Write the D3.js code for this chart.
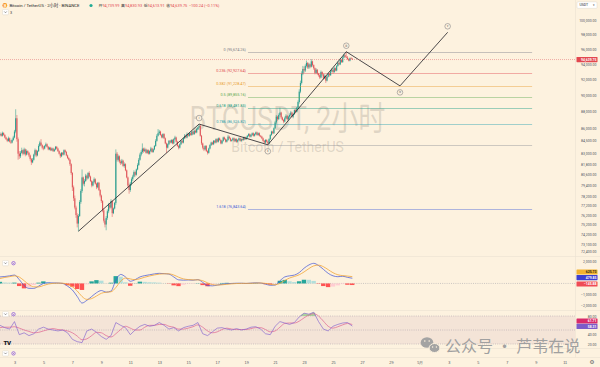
<!DOCTYPE html>
<html>
<head>
<meta charset="utf-8">
<script src="https://cdn.jsdelivr.net/npm/d3@7"></script>
<style>
  html, body { margin: 0; padding: 0; background: #fdf2df; }
  svg { display: block; font-family: Roboto, "Noto Sans CJK SC", sans-serif; }
</style>
</head>
<body>
<svg id="chart" width="600" height="367"></svg>
<script>
// ---------- BTC/USDT 2h candles, from 2025-04-02 00:00 (UTC+8), 12 bars per day ----------
const barStart = "2025-04-02T00:00";
const firstOpen = 85200;
const closes = [
  85300, 85100, 85450, 85200, 84900, 84700, 84500, 84800, 84400, 84300, 84600, 84900,
  85600, 87200, 84700, 83000, 82700, 83100, 83400, 83000, 83500, 82900, 83300, 83100,
  82800, 82400, 82000, 82300, 82900, 83400, 82800, 83300, 83900, 84300, 84000, 83700,
  83600, 83900, 84100, 83800, 83500, 83700, 83400, 83600, 83300, 83500, 83800, 83600,
  83300, 83000, 82700, 83100, 82900, 83400, 83200, 82800, 82500, 82300, 81800, 80800,
  79200, 78000, 77000, 76200, 75300, 76100, 77600, 78800, 80300, 79600, 79900, 80500,
  80200, 80800, 80400, 79900, 79400, 79800, 80100, 79600, 79200, 79700, 78900, 78300,
  77700, 76700, 75600, 75200, 75900, 76600, 77300, 77000, 77700, 76400, 76900, 77500,
  83000, 82300, 82700, 82100, 81900, 82200, 81600, 81800, 81100, 80300, 79400, 78900,
  79600, 80100, 80400, 80900, 80600, 81200, 81700, 82300, 82900, 83200, 83600, 83300,
  83500, 83100, 83400, 83000, 83300, 83600, 83200, 83500, 83900, 84500, 85100, 85400,
  85600, 85200, 84900, 85300, 84800, 84200, 83700, 84100, 84500, 84300, 84600, 84200,
  84700, 84900, 84400, 83900, 83700, 84100, 84500, 84300, 84800, 85100, 84900, 85300,
  85100, 85400, 85200, 85600, 85300, 85700, 85500, 85900, 86100, 86300, 85100, 84200,
  83700, 83500, 83900, 83300, 83100, 83600, 84000, 84300, 84100, 84500, 84300, 84700,
  84400, 84800, 84600, 84200, 84500, 84900, 84700, 84400, 84600, 85000, 84800, 84500,
  84600, 84800, 84500, 84700, 84400, 84600, 84800, 84500, 84700, 84600, 84900, 84700,
  84900, 85100, 85300, 85000, 85200, 85400, 85100, 85300, 85500, 85200, 85400, 85100,
  85000, 84800, 84500, 84300, 84600, 84400, 84200, 84700, 85200, 85600, 85400, 86000,
  86700, 87400, 87100, 87600, 87900, 87300, 87000, 86800, 87200, 87500, 87100, 87400,
  87600, 87900, 87400, 87700, 88200, 88000, 88500, 89200, 90500, 91600, 92800, 93400,
  93200, 93800, 94200, 93600, 94000, 93700, 94400, 93900, 93500, 92900, 93300, 92800,
  92600, 92300, 93000, 92700, 92200, 92500, 91900, 92400, 92800, 92600, 93100, 93300,
  93000, 93500, 93200, 93800, 94200, 94000, 94600, 94300, 94900, 95200, 95000, 94900,
  94700, 94500, 94800, 94739.99, 94639.75
];
const highs = [
  85500, 85450, 85600, 85500, 85300, 85000, 84800, 85000, 84900, 84600, 84750, 85100,
  85800, 88300, 87600, 84900, 83300, 83300, 83700, 83500, 83700, 83600, 83500, 83400,
  83200, 82900, 82500, 82500, 83000, 83600, 83500, 83400, 84100, 84500, 84700, 84100,
  83900, 84000, 84300, 84200, 83900, 83800, 83800, 83700, 83700, 83600, 83900, 83900,
  83700, 83400, 83100, 83200, 83200, 83500, 83500, 83300, 82900, 82600, 82400, 81900,
  80900, 79400, 78300, 77200, 76400, 76300, 77800, 79000, 81200, 80400, 80100, 80700,
  80600, 80900, 81000, 80500, 80000, 79900, 80300, 80200, 79700, 79800, 79800, 79000,
  78400, 77800, 76900, 75800, 76100, 76800, 77500, 77500, 77900, 77800, 77000, 77600,
  83500, 83200, 82900, 82800, 82300, 82400, 82300, 82000, 81900, 81200, 80400, 79600,
  79800, 80300, 80600, 81100, 81000, 81300, 81900, 82500, 83100, 83400, 84200, 83700,
  83700, 83600, 83500, 83500, 83400, 83800, 83700, 83600, 84000, 84700, 85300, 85900,
  85800, 85700, 85300, 85400, 85400, 84900, 84300, 84200, 84600, 84600, 84700, 84700,
  84800, 85100, 85000, 84500, 84000, 84200, 84600, 84600, 84900, 85300, 85200, 85500,
  85400, 85500, 85500, 85700, 85700, 85800, 85800, 86000, 86200, 86500, 86400, 85200,
  84300, 83900, 84000, 84000, 83400, 83700, 84100, 84400, 84400, 84600, 84600, 84800,
  84800, 84900, 84900, 84700, 84600, 85000, 85000, 84800, 84700, 85200, 85100, 84900,
  84700, 84900, 84900, 84800, 84800, 84700, 84900, 84900, 84800, 84800, 85000, 85000,
  85000, 85200, 85400, 85400, 85300, 85500, 85500, 85400, 85600, 85600, 85500, 85500,
  85200, 85100, 84900, 84600, 84700, 84700, 84500, 84800, 85300, 85700, 85700, 86100,
  86900, 87600, 87500, 87800, 88500, 88000, 87400, 87100, 87400, 87700, 87600, 87500,
  87800, 88100, 88000, 87800, 88300, 88400, 88600, 89400, 90800, 91900, 93100, 93800,
  93700, 94000, 94500, 94300, 94200, 94100, 94700, 94500, 94000, 93600, 93500, 93400,
  92900, 92700, 93200, 93100, 92800, 92700, 92600, 92500, 92900, 92900, 93200, 93500,
  93500, 93700, 93600, 93900, 94400, 94300, 94800, 94700, 95000, 95400, 95300, 95674.26,
  95100, 94800, 94900, 94950, 94830.93
];
const lows = [
  85050, 85000, 85000, 85100, 84800, 84600, 84350, 84400, 84300, 84150, 84200, 84500,
  84800, 85400, 84400, 82300, 82400, 82500, 83000, 82800, 82900, 82700, 82800, 82900,
  82600, 82200, 81700, 81900, 82200, 82700, 82600, 82700, 83200, 83800, 83900, 83500,
  83400, 83500, 83800, 83700, 83400, 83400, 83300, 83300, 83200, 83200, 83400, 83500,
  83200, 82900, 82500, 82600, 82800, 82800, 83100, 82700, 82400, 82200, 81600, 80600,
  78800, 77700, 76800, 75900, 74900, 74500, 76000, 77400, 78600, 79400, 79300, 79800,
  80000, 80100, 80300, 79800, 79200, 79300, 79700, 79500, 79000, 79100, 78800, 78100,
  77500, 76500, 75400, 74900, 74600, 75700, 76400, 76800, 76900, 76000, 76300, 76800,
  77300, 82100, 82100, 81900, 81700, 81800, 81500, 81400, 81000, 80200, 79200, 78500,
  78700, 79400, 79900, 80300, 80400, 80500, 81100, 81600, 82200, 82700, 83000, 83100,
  83200, 83000, 83000, 82900, 82900, 83200, 83100, 83100, 83400, 83800, 84400, 85000,
  85200, 85100, 84800, 84800, 84700, 84100, 83100, 83600, 84000, 84200, 84200, 84100,
  84100, 84600, 84300, 83800, 83500, 83600, 84000, 84200, 84200, 84700, 84800, 84800,
  85000, 85000, 85100, 85100, 85200, 85200, 85400, 85400, 85800, 86000, 85000, 84000,
  83500, 83300, 83400, 83200, 82900, 83000, 83500, 83900, 84000, 84000, 84200, 84200,
  84300, 84300, 84500, 84100, 84100, 84400, 84600, 84300, 84300, 84500, 84700, 84400,
  84400, 84500, 84400, 84400, 84300, 84300, 84500, 84400, 84400, 84500, 84500, 84600,
  84600, 84800, 85000, 84900, 84900, 85100, 85000, 85000, 85200, 85100, 85100, 85000,
  84900, 84700, 84400, 84200, 84200, 84300, 84036, 84100, 84600, 85100, 85300, 85300,
  85900, 86500, 86900, 87000, 87400, 87100, 86900, 86600, 86700, 87100, 87000, 87000,
  87200, 87400, 87300, 87200, 87600, 87800, 87900, 88400, 89000, 90300, 91400, 92600,
  92900, 93000, 93600, 93400, 93400, 93500, 93600, 93700, 93300, 92700, 92800, 92600,
  92400, 92100, 92200, 92500, 92000, 92100, 91600, 91800, 92300, 92400, 92500, 93000,
  92800, 92900, 93100, 93100, 93700, 93900, 93900, 94200, 94200, 94800, 94900, 94800,
  94600, 94400, 94400, 94700, 94613.91
];

// ---------- indicators, one reading every 4 bars (8h) ----------
const macdLine = [
  600, 640, 700, 770, 350, -200, -450, -450, -250, 0,
  60, 50, 40, 0, -250, -600, -1200, -1800, -1550, -1200,
  -850, -650, -800, -700, 300, 830, 600, 200, 350, 600,
  720, 800, 880, 930, 900, 860, 600, 330, 300, 320,
  300, 350, 100, -200, -220, -150, -80, -20, 0, 20,
  20, 0, 30, 60, 40, -60, -170, -150, 250, 600,
  700, 770, 1000, 1400, 1700, 1850, 1650, 1300, 930, 700,
  620, 660, 560, 479.85
];
const signalLine = [
  450, 553, 625, 694, 590, 254, -102, -308, -321, -191,
  -57, 9, 30, 22, -80, -304, -691, -1203, -1467, -1392,
  -1155, -904, -807, -768, -374, 211, 495, 415, 341, 435,
  575, 689, 783, 858, 890, 882, 777, 577, 421, 357,
  328, 329, 253, 57, -102, -147, -124, -77, -36, -8,
  8, 8, 14, 34, 42, 5, -72, -123, 3, 273,
  501, 643, 799, 1059, 1366, 1616, 1683, 1540, 1267, 987,
  800, 720, 680, 625.73
];
const rsiLine = [
  60, 55, 52, 68, 40, 44, 38, 42, 52, 56,
  52, 50, 48, 50, 44, 30, 25, 23, 48, 52,
  45, 36, 30, 38, 66, 60, 55, 40, 50, 58,
  62, 58, 60, 66, 60, 52, 55, 48, 55, 58,
  60, 66, 42, 38, 46, 54, 55, 52, 50, 53,
  50, 52, 56, 57, 52, 42, 40, 58, 68, 65,
  62, 66, 78, 86, 84, 88, 68, 52, 48, 58,
  62, 65, 66, 58.31
];
const rsiMA = [
  55, 56, 56, 57, 54, 50, 47, 44, 45, 48,
  51, 53, 51, 50, 48, 44, 37, 29, 31, 38,
  45, 44, 38, 35, 42, 51, 58, 54, 50, 50,
  56, 60, 60, 62, 62, 58, 56, 52, 52, 54,
  57, 61, 56, 48, 44, 46, 51, 54, 52, 51,
  51, 51, 53, 55, 55, 51, 46, 48, 56, 64,
  65, 65, 69, 76, 82, 85, 80, 69, 58, 54,
  57, 61, 64, 61.71
];

// ---------- Elliott wave (i)-(v) with projection ----------
const waveTimes  = ["2025-04-07T10:00", "2025-04-15T18:00", "2025-04-20T12:00", "2025-04-25T22:00", "2025-04-29T15:00", "2025-05-02T22:00"];
const wavePrices = [74500, 86500, 84036, 95674.26, 91228.47, 98300];
const waveLabels = ["", "i", "ii", "iii", "iv", "v"];

// ---------- Fibonacci retracement of wave iii ----------
const fibRatios = [0, 0.236, 0.382, 0.5, 0.618, 0.786, 1, 1.618];
const fibPrices = [95674.26, 92927.64, 91228.47, 89855.16, 88481.85, 86526.82, 84036.04, 76843.64];
const fibColors = ["#787b86", "#e0454f", "#e89a2c", "#5aa84e", "#129a82", "#1f9fb0", "#8a8d96", "#3f5fd8"];
const fibLabelShown = [true, true, true, true, true, true, false, true];
const fibFrom = "2025-04-19T03:00", fibTo = "2025-05-08T18:00";

// ---------- axis ticks (values under the value tags are left out) ----------
const priceTicks = [100000, 98000, 96000, 94000, 92000, 90000, 88000, 86000, 84500, 83000, 81800,
                    80600, 79400, 78200, 77200, 76200, 75200, 74200, 73100, 72400];
const macdTicks = [2000, -1000, -2000];
const rsiTicks = [80, 40, 20];
const dateTicks = ["2025-04-03", "2025-04-05", "2025-04-07", "2025-04-09", "2025-04-11", "2025-04-13",
                   "2025-04-15", "2025-04-17", "2025-04-19", "2025-04-21", "2025-04-23", "2025-04-25",
                   "2025-04-27", "2025-04-29", "2025-05-01", "2025-05-03", "2025-05-05", "2025-05-07",
                   "2025-05-09", "2025-05-11"];
const dateTickLabels = ["3", "5", "7", "9", "11", "13", "15", "17", "19", "21", "23", "25", "27", "29",
                        "5月", "3", "5", "7", "9", "11"];

// ---------- layout ----------
const W = 600, H = 367, plotR = 575;
const bg = "#fdf2df";
const upC = "#2a9d8f", downC = "#e0575b";
const axisText = "#4e5260";

const svg = d3.select("#chart");
const parseT = d3.utcParse("%Y-%m-%dT%H:%M");
const parseD = d3.utcParse("%Y-%m-%d");
const t0 = parseT(barStart);
const HOUR = 3600e3;

const x = d3.scaleUtc()
  .domain([parseT("2025-04-02T00:00"), parseT("2025-05-11T00:00")])
  .range([0, 564.7]);
const y = d3.scaleLog().domain([100000, 72400]).range([20, 251.75]);
const yMacd = d3.scaleLinear().domain([2000, -2000]).range([261.7, 305.2]);
const yRsi = d3.scaleLinear().domain([80, 20]).range([316, 344]);

svg.append("rect").attr("width", W).attr("height", H).attr("fill", bg);

svg.append("defs").append("clipPath").attr("id", "plotClip")
  .append("rect").attr("x", 0).attr("y", 0).attr("width", plotR).attr("height", 256);

// pane separators
const sep = svg.append("g").attr("stroke", "#ebe1d1").attr("stroke-width", 0.6);
[256.5, 310.5, 348.5, 357.5].forEach(v => sep.append("line").attr("x1", 0).attr("x2", W).attr("y1", v).attr("y2", v));
sep.append("line").attr("x1", plotR + 0.5).attr("x2", plotR + 0.5).attr("y1", 0).attr("y2", 357.5);

// symbol watermark
const wm = svg.append("g").attr("text-anchor", "middle").attr("fill", "rgba(118,110,102,0.22)");
wm.append("text").attr("x", plotR / 2).attr("y", 130).attr("font-size", 33)
  .attr("textLength", 196).attr("lengthAdjust", "spacingAndGlyphs").text("BTCUSDT, 2小时");
wm.append("text").attr("x", plotR / 2).attr("y", 152).attr("font-size", 14).text("Bitcoin / TetherUS");

// candles
const bars = closes.map((c, i) => {
  const o = i === 0 ? firstOpen : closes[i - 1];
  return { t: new Date(+t0 + i * 2 * HOUR), o, c,
           h: Math.max(highs[i], o, c), l: Math.min(lows[i], o, c) };
});
const cg = svg.append("g").attr("clip-path", "url(#plotClip)");
cg.selectAll("line.wick").data(bars).join("line")
  .attr("x1", d => x(d.t)).attr("x2", d => x(d.t))
  .attr("y1", d => y(d.h)).attr("y2", d => y(d.l))
  .attr("stroke", d => d.c >= d.o ? upC : downC).attr("stroke-width", 0.55);
cg.selectAll("rect.body").data(bars).join("rect")
  .attr("x", d => x(d.t) - 0.55).attr("width", 1.1)
  .attr("y", d => y(Math.max(d.o, d.c)))
  .attr("height", d => Math.max(0.6, y(Math.min(d.o, d.c)) - y(Math.max(d.o, d.c))))
  .attr("fill", d => d.c >= d.o ? upC : downC);

// fibonacci levels
const fg = svg.append("g");
fibRatios.forEach((r, i) => {
  const yy = Math.round(y(fibPrices[i])) + 0.5;
  fg.append("line").attr("x1", x(parseT(fibFrom))).attr("x2", x(parseT(fibTo)))
    .attr("y1", yy).attr("y2", yy).attr("stroke", fibColors[i]).attr("stroke-width", 0.7)
    .attr("stroke-opacity", 0.6);
  if (fibLabelShown[i]) {
    fg.append("text").attr("x", x(parseT(fibFrom)) - 2).attr("y", yy - 1.6)
      .attr("text-anchor", "end").attr("font-size", 3.8).attr("fill", fibColors[i])
      .text(`${r} (${d3.format(",.2f")(fibPrices[i])})`);
  }
});

// wave path and labels
const wavePts = waveTimes.map((t, i) => [x(parseT(t)), y(wavePrices[i])]);
svg.append("path").attr("d", d3.line()(wavePts)).attr("fill", "none")
  .attr("stroke", "#1e1e24").attr("stroke-width", 0.8);
wavePts.forEach((p, i) => {
  if (!waveLabels[i]) return;
  const up = i % 2 === 1;
  const cy = p[1] + (up ? -6 : 6.5);
  svg.append("circle").attr("cx", p[0]).attr("cy", cy).attr("r", 2.8)
    .attr("fill", bg).attr("stroke", "#6f6f74").attr("stroke-width", 0.5);
  svg.append("text").attr("x", p[0]).attr("y", cy + 0.9).attr("text-anchor", "middle")
    .attr("font-size", 2.6).attr("fill", "#333").text(waveLabels[i]);
});

// last price line
const lastBar = bars[bars.length - 1];
const yLast = y(lastBar.c);
svg.append("line").attr("x1", 0).attr("x2", plotR).attr("y1", yLast).attr("y2", yLast)
  .attr("stroke", downC).attr("stroke-opacity", 0.75).attr("stroke-width", 0.6).attr("stroke-dasharray", "1,1");

// ---------- MACD pane ----------
const sampT = k => new Date(+t0 + k * 8 * HOUR);
svg.append("line").attr("x1", 0).attr("x2", plotR).attr("y1", yMacd(0)).attr("y2", yMacd(0))
  .attr("stroke", "#9a9aa2").attr("stroke-width", 0.5).attr("stroke-dasharray", "1,1.2");
const hist = macdLine.map((m, k) => m - signalLine[k]);
svg.append("g").selectAll("rect").data(hist).join("rect")
  .attr("x", (d, k) => x(sampT(k)) - 2.3).attr("width", 4.4)
  .attr("y", d => Math.min(yMacd(d), yMacd(0)))
  .attr("height", d => Math.abs(yMacd(d) - yMacd(0)))
  .attr("fill", (d, k) => {
    const prev = k > 0 ? hist[k - 1] : d;
    if (d >= 0) return d >= prev ? "#26a69a" : "#b2dfdb";
    return d <= prev ? "#ff5252" : "#ffcdd2";
  });
const lm = d3.line().x((d, k) => x(sampT(k))).curve(d3.curveMonotoneX);
svg.append("path").attr("d", lm.y(d => yMacd(d))(macdLine)).attr("fill", "none")
  .attr("stroke", "#4a5bd6").attr("stroke-width", 0.75);
svg.append("path").attr("d", lm.y(d => yMacd(d))(signalLine)).attr("fill", "none")
  .attr("stroke", "#f2a22e").attr("stroke-width", 0.75);

// ---------- RSI pane ----------
svg.append("rect").attr("x", 0).attr("width", plotR).attr("y", yRsi(80)).attr("height", yRsi(20) - yRsi(80))
  .attr("fill", "rgba(170,110,150,0.10)");
[80, 50, 20].forEach(v => svg.append("line").attr("x1", 0).attr("x2", plotR)
  .attr("y1", yRsi(v)).attr("y2", yRsi(v)).attr("stroke", "#a59aa6").attr("stroke-width", 0.5)
  .attr("stroke-dasharray", "1,1.2"));
svg.append("defs").append("clipPath").attr("id", "obClip")
  .append("rect").attr("x", 0).attr("y", 300).attr("width", plotR).attr("height", yRsi(80) - 300);
svg.append("path").attr("clip-path", "url(#obClip)")
  .attr("d", d3.area().x((d, k) => x(sampT(k))).y0(yRsi(80)).y1(d => yRsi(d)).curve(d3.curveMonotoneX)(rsiLine))
  .attr("fill", "rgba(76,175,80,0.45)");
const lr = d3.line().x((d, k) => x(sampT(k))).y(d => yRsi(d));
svg.append("path").attr("d", lr.curve(d3.curveMonotoneX)(rsiMA)).attr("fill", "none")
  .attr("stroke", "#e0628f").attr("stroke-width", 0.7);
svg.append("path").attr("d", lr.curve(d3.curveLinear)(rsiLine)).attr("fill", "none")
  .attr("stroke", "#8a6ad0").attr("stroke-width", 0.7);

// ---------- axes ----------
function styleRightAxis(g) {
  g.select(".domain").remove();
  g.selectAll("text").attr("x", 21.5).attr("text-anchor", "end")
    .attr("font-size", 3.5).attr("fill", axisText).attr("font-family", "Roboto, sans-serif");
}
svg.append("g").attr("transform", `translate(${plotR},0)`)
  .call(d3.axisRight(y).tickValues(priceTicks).tickFormat(d3.format(",.2f")).tickSize(0).tickPadding(0))
  .call(styleRightAxis);
svg.append("g").attr("transform", `translate(${plotR},0)`)
  .call(d3.axisRight(yMacd).tickValues(macdTicks).tickFormat(d3.format(",.2f")).tickSize(0).tickPadding(0))
  .call(styleRightAxis);
svg.append("g").attr("transform", `translate(${plotR},0)`)
  .call(d3.axisRight(yRsi).tickValues(rsiTicks).tickFormat(d3.format(".2f")).tickSize(0).tickPadding(0))
  .call(styleRightAxis);
const xa = svg.append("g").attr("transform", "translate(0,358.5)")
  .call(d3.axisBottom(x).tickValues(dateTicks.map(parseD))
    .tickFormat((d, i) => dateTickLabels[i]).tickSize(0).tickPadding(2.4));
xa.select(".domain").remove();
xa.selectAll("text").attr("font-size", 3.8).attr("fill", axisText);

// value tags on the price scale
function tag(yy, fill, textFill, label) {
  const g = svg.append("g");
  g.append("rect").attr("x", 576.5).attr("y", yy - 2.6).attr("width", 21).attr("height", 5.2)
    .attr("rx", 0.6).attr("fill", fill);
  g.append("text").attr("x", 596.5).attr("y", yy + 1.2).attr("text-anchor", "end")
    .attr("font-size", 3.4).attr("font-weight", 700).attr("fill", textFill).text(label);
}
tag(yLast, "#e2474f", "#fff", d3.format(",.2f")(lastBar.c));
const last = macdLine.length - 1;
tag(272, "#f2b230", "#2a2416", d3.format(",.2f")(signalLine[last]));
tag(277.6, "#3d3fd0", "#fff", d3.format(",.2f")(macdLine[last]));
tag(284, "#ef4b55", "#fff", d3.format(",.2f")(hist[last]).replace("-", "−"));
tag(321, "#d92a6a", "#fff", d3.format(".2f")(rsiMA[last]));
tag(326.4, "#7c5bc9", "#fff", d3.format(".2f")(rsiLine[last]));

// quote currency switch
svg.append("rect").attr("x", 577).attr("y", 1.8).attr("width", 20).attr("height", 6.6).attr("rx", 1)
  .attr("fill", "#fff").attr("stroke", "#d8d0c2").attr("stroke-width", 0.4);
svg.append("text").attr("x", 579.5).attr("y", 6.4).attr("font-size", 3.5).attr("fill", "#222").text("USDT");
svg.append("text").attr("x", 592.5).attr("y", 6.4).attr("font-size", 3.2).attr("fill", "#444").text("▾");
svg.append("text").attr("x", 589.5).attr("y", 364.2).attr("font-size", 5.5)
  .attr("font-family", "DejaVu Sans").attr("fill", "#555").text("⚙");

// ---------- legend ----------
const lg = svg.append("g").attr("font-size", 4.3);
lg.append("circle").attr("cx", 4.8).attr("cy", 5.4).attr("r", 2.4).attr("fill", "#f7931a");
lg.append("text").attr("x", 3.6).attr("y", 6.9).attr("font-size", 3.6).attr("font-weight", 700)
  .attr("fill", "#fff").text("₿");
lg.append("text").attr("x", 9.4).attr("y", 7).attr("fill", "#1d1f26").text("Bitcoin / TetherUS · 2小时 · BINANCE");
lg.append("circle").attr("cx", 91).attr("cy", 5.5).attr("r", 1.6).attr("fill", "#22ab94");
const ohlcTags = ["开", "高", "低", "收"];
const ohlcVals = ["94,739.99", "94,830.93", "94,613.91", "94,639.75"];
const ohlcText = lg.append("text").attr("x", 98.5).attr("y", 7).attr("font-size", 3.9);
ohlcTags.forEach((t, i) => {
  ohlcText.append("tspan").attr("fill", "#1d1f26").attr("dx", i ? 1.6 : 0).text(t);
  ohlcText.append("tspan").attr("fill", "#e2474f").text(ohlcVals[i]);
});
ohlcText.append("tspan").attr("fill", "#e2474f").attr("dx", 1.6).text("−100.24 (−0.11%)");

function paneHeader(cy, withCount) {
  const g = svg.append("g");
  g.append("rect").attr("x", 2.5).attr("y", cy - 2.6).attr("width", 6).attr("height", 5.2).attr("rx", 0.8)
    .attr("fill", "#fff").attr("stroke", "#d6cec0").attr("stroke-width", 0.4);
  g.append("path").attr("d", `M4.2,${cy - 0.8} L5.5,${cy + 0.6} L6.8,${cy - 0.8}`)
    .attr("fill", "none").attr("stroke", "#333").attr("stroke-width", 0.45);
  if (withCount) {
    g.append("text").attr("x", 10).attr("y", cy + 1.4).attr("font-size", 3.8).attr("fill", "#333").text("3");
  } else {
    g.append("circle").attr("cx", 13.5).attr("cy", cy).attr("r", 1.7)
      .attr("fill", "none").attr("stroke", "#8c5bd8").attr("stroke-width", 0.8);
    g.append("circle").attr("cx", 13.5).attr("cy", cy).attr("r", 0.5).attr("fill", "#8c5bd8");
  }
}
paneHeader(12.2, true);
paneHeader(263.2, false);
paneHeader(314.2, false);
paneHeader(353.4, false);

// TradingView mark
svg.append("text").attr("x", 3.5).attr("y", 344.5).attr("font-size", 6.2).attr("font-weight", 900)
  .attr("fill", "#131722").attr("letter-spacing", -0.4).text("TV");

// account mark
const acc = svg.append("g").attr("fill", "#a3a3a3");
acc.append("ellipse").attr("cx", 427).attr("cy", 342.5).attr("rx", 6.3).attr("ry", 5.3);
acc.append("ellipse").attr("cx", 434.5).attr("cy", 348).attr("rx", 5.4).attr("ry", 4.5)
  .attr("stroke", bg).attr("stroke-width", 1);
[[424.8, 341], [429.2, 341]].forEach(p => acc.append("circle").attr("cx", p[0]).attr("cy", p[1]).attr("r", 0.8).attr("fill", bg));
[[432.6, 347], [436.4, 347]].forEach(p => acc.append("circle").attr("cx", p[0]).attr("cy", p[1]).attr("r", 0.7).attr("fill", bg));
svg.append("text").attr("x", 445).attr("y", 352).attr("font-size", 16)
  .attr("font-family", "'Noto Sans CJK SC', sans-serif").attr("fill", "#a0a0a0")
  .text("公众号 · 芦苇在说");
</script>
</body>
</html>
